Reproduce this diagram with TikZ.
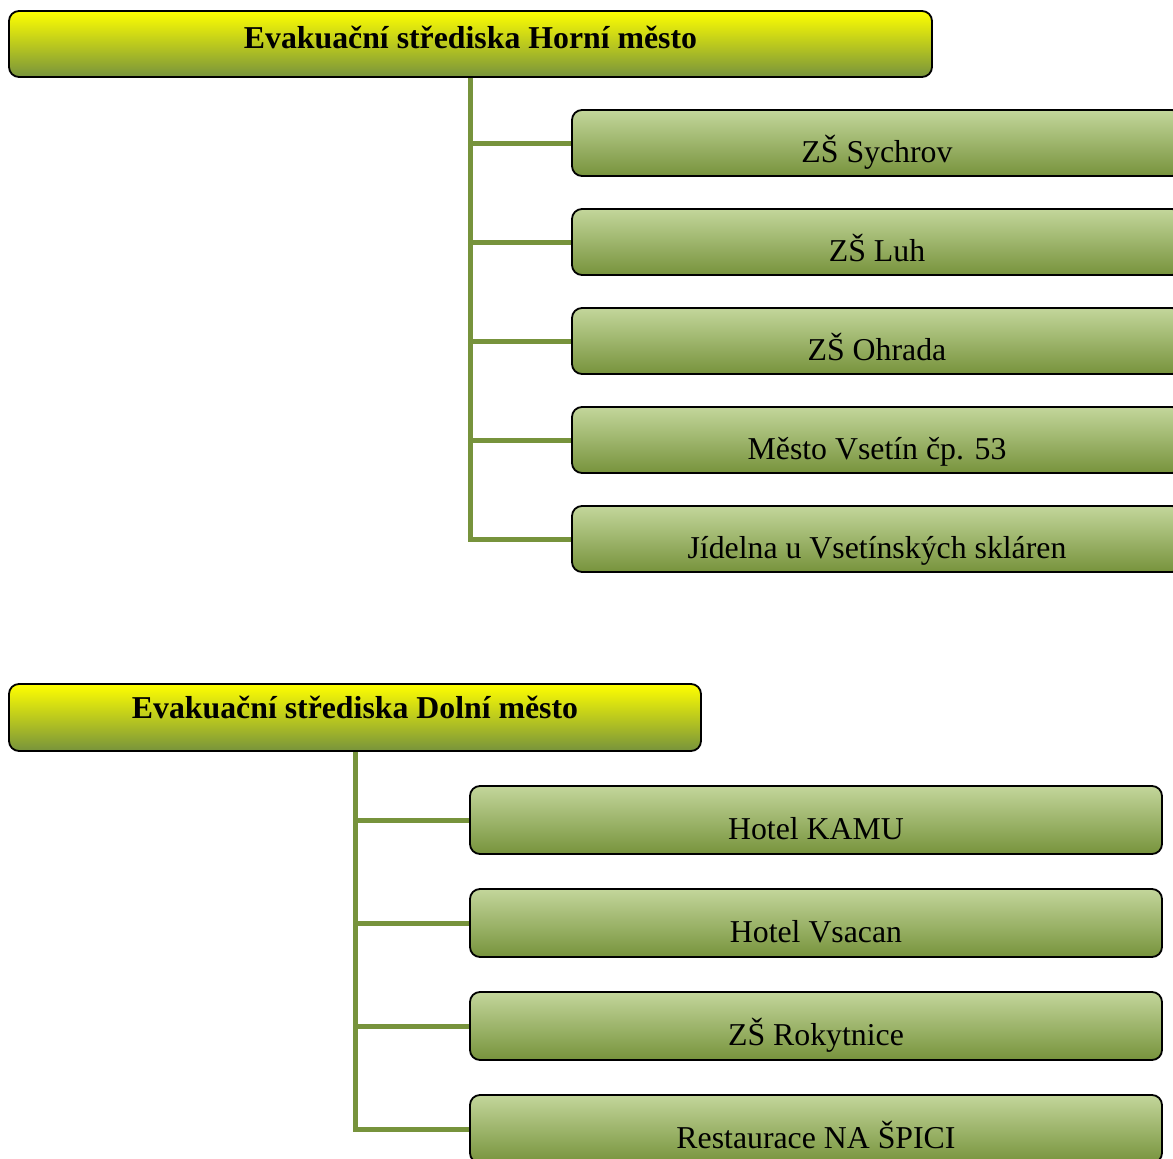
\documentclass[tikz,border=0pt]{standalone}
\usepackage{fontspec}
\setmainfont{Liberation Serif}
\usetikzlibrary{backgrounds}
\definecolor{olive}{HTML}{77933C}
\definecolor{lightolive}{HTML}{C3D69B}
\definecolor{midolive}{HTML}{B0C582}
\begin{document}
\begin{tikzpicture}[x=1pt,y=-1pt,
  hdr/.style={draw=black, line width=1.8pt, rounded corners=10pt,
    top color=yellow, bottom color=olive, inner sep=0pt,
    minimum height=66pt, font=\fontsize{31.8}{36}\selectfont\bfseries,
    text depth=0pt},
  item/.style={draw=black, line width=1.8pt, rounded corners=10pt,
    top color=lightolive, middle color=midolive, bottom color=olive, inner sep=0pt,
    font=\fontsize{31.8}{36}\selectfont, text height=38pt, text depth=0pt},
  conn/.style={draw=olive, line width=5pt}]
\useasboundingbox (0,0) rectangle (1173,1159);
\clip (0,0) rectangle (1173,1159);
% upper group
\node[hdr, minimum width=923pt, text height=8pt] (h1) at (470.5,44) {Evakuační střediska Horní město};
\node[item, minimum width=610pt, minimum height=66pt] (a1) at (877,143) {ZŠ Sychrov};
\node[item, minimum width=610pt, minimum height=66pt] (a2) at (877,242) {ZŠ Luh};
\node[item, minimum width=610pt, minimum height=66pt] (a3) at (877,341) {ZŠ Ohrada};
\node[item, minimum width=610pt, minimum height=66pt] (a4) at (877,440) {Město Vsetín čp. 53};
\node[item, minimum width=610pt, minimum height=66pt] (a5) at (877,539) {Jídelna u Vsetínských skláren};
% lower group
\node[hdr, minimum width=692pt, minimum height=67pt, text height=2pt] (h2) at (355,717.5) {Evakuační střediska Dolní město};
\node[item, minimum width=692pt, minimum height=68pt] (b1) at (816,820) {Hotel KAMU};
\node[item, minimum width=692pt, minimum height=68pt] (b2) at (816,923) {Hotel Vsacan};
\node[item, minimum width=692pt, minimum height=68pt] (b3) at (816,1026) {ZŠ Rokytnice};
\node[item, minimum width=692pt, minimum height=68pt] (b4) at (816,1129) {Restaurace NA ŠPICI};
\begin{scope}[on background layer]
  \foreach \n in {a1,a2,a3,a4,a5} \draw[conn] (h1.south) |- (\n.west);
  \foreach \n in {b1,b2,b3,b4} \draw[conn] (h2.south) |- (\n.west);
\end{scope}
\end{tikzpicture}
\end{document}
